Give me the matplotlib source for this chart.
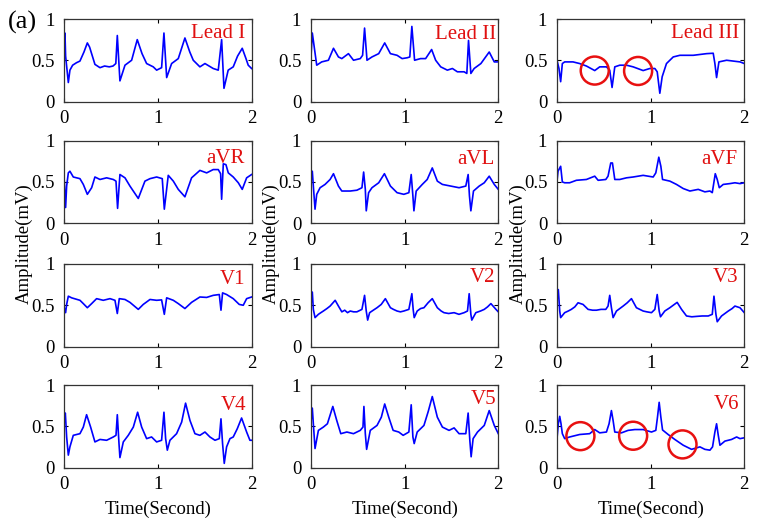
import matplotlib
matplotlib.use("Agg")
import matplotlib.pyplot as plt
from matplotlib.patches import Ellipse

plt.rcParams['font.family'] = ['Liberation Serif', 'DejaVu Serif']

# ---------------- data (time in s, amplitude in mV) ----------------
t_lead1 = [0.0, 0.007, 0.014, 0.043, 0.06, 0.089, 0.13, 0.167, 0.21, 0.246, 0.27, 0.327, 0.381, 0.43, 0.48, 0.52, 0.55,
           0.566, 0.594, 0.648, 0.719, 0.779, 0.83, 0.879, 0.95, 0.986, 1.039, 1.064, 1.093, 1.146, 1.217, 1.288, 1.34,
           1.377, 1.448, 1.502, 1.59, 1.644, 1.68, 1.705, 1.75, 1.804, 1.85, 1.9, 1.94, 1.964, 2.0]
v_lead1 = [0.62, 0.83, 0.55, 0.23, 0.38, 0.44, 0.47, 0.49, 0.60, 0.71, 0.66, 0.45, 0.41, 0.43, 0.42, 0.43, 0.46,
           0.80, 0.25, 0.44, 0.50, 0.75, 0.58, 0.46, 0.42, 0.38, 0.41, 0.83, 0.29, 0.46, 0.52, 0.77, 0.60,
           0.50, 0.42, 0.46, 0.40, 0.38, 0.75, 0.16, 0.38, 0.42, 0.55, 0.645, 0.52, 0.44, 0.40]

t_lead2 = [0.0, 0.014, 0.061, 0.114, 0.186, 0.24, 0.293, 0.329, 0.40, 0.454, 0.526, 0.551, 0.572, 0.598, 0.651, 0.723,
           0.787, 0.848, 0.919, 0.973, 1.027, 1.055, 1.077, 1.106, 1.17, 1.224, 1.288, 1.331, 1.385, 1.456, 1.51, 1.563,
           1.635, 1.664, 1.682, 1.707, 1.742, 1.814, 1.903, 1.957, 2.0]
v_lead2 = [0.54, 0.83, 0.44, 0.48, 0.50, 0.645, 0.54, 0.52, 0.58, 0.50, 0.52, 0.56, 0.89, 0.50, 0.54, 0.58,
           0.71, 0.58, 0.56, 0.52, 0.53, 0.54, 0.91, 0.50, 0.52, 0.52, 0.63, 0.50, 0.42, 0.38, 0.40, 0.36,
           0.36, 0.34, 0.74, 0.34, 0.40, 0.46, 0.60, 0.48, 0.48]

t_lead3 = [0.0, 0.021, 0.039, 0.057, 0.082, 0.171, 0.242, 0.314, 0.403, 0.456, 0.528, 0.563, 0.588, 0.617, 0.67,
           0.742, 0.813, 0.92, 0.991, 1.045, 1.07, 1.098, 1.123, 1.169, 1.241, 1.312, 1.455, 1.597, 1.668, 1.686,
           1.704, 1.729, 1.811, 1.882, 1.954, 2.0]
v_lead3 = [0.50, 0.40, 0.24, 0.46, 0.48, 0.48, 0.46, 0.43, 0.375, 0.42, 0.42, 0.38, 0.17, 0.42, 0.44,
           0.44, 0.42, 0.375, 0.40, 0.40, 0.36, 0.10, 0.30, 0.46, 0.54, 0.56, 0.56, 0.58, 0.585, 0.46,
           0.29, 0.48, 0.50, 0.49, 0.48, 0.46]

t_avr = [0.0, 0.014, 0.025, 0.043, 0.06, 0.096, 0.167, 0.203, 0.246, 0.292, 0.327, 0.381, 0.452, 0.523, 0.552, 0.569,
         0.594, 0.648, 0.701, 0.79, 0.861, 0.915, 0.986, 1.046, 1.068, 1.11, 1.164, 1.217, 1.288, 1.359, 1.448, 1.52,
         1.59, 1.644, 1.669, 1.68, 1.698, 1.726, 1.751, 1.804, 1.858, 1.9, 1.947, 2.0]
v_avr = [0.51, 0.19, 0.45, 0.61, 0.63, 0.56, 0.54, 0.47, 0.35, 0.43, 0.56, 0.53, 0.55, 0.53, 0.51, 0.18,
         0.59, 0.55, 0.45, 0.30, 0.51, 0.54, 0.56, 0.54, 0.17, 0.58, 0.51, 0.41, 0.32, 0.55, 0.64, 0.61,
         0.65, 0.65, 0.60, 0.29, 0.72, 0.71, 0.61, 0.56, 0.49, 0.41, 0.55, 0.59]

t_avl = [0.0, 0.014, 0.025, 0.043, 0.061, 0.097, 0.15, 0.204, 0.24, 0.293, 0.329, 0.419, 0.49, 0.544, 0.562, 0.58,
         0.59, 0.615, 0.651, 0.723, 0.784, 0.848, 0.919, 0.991, 1.045, 1.07, 1.088, 1.099, 1.123, 1.188, 1.241, 1.295,
         1.349, 1.403, 1.492, 1.581, 1.653, 1.678, 1.692, 1.707, 1.735, 1.796, 1.85, 1.903, 1.957, 2.0]
v_avl = [0.51, 0.63, 0.45, 0.17, 0.35, 0.43, 0.47, 0.53, 0.60, 0.45, 0.39, 0.39, 0.40, 0.43, 0.62, 0.41,
         0.15, 0.37, 0.43, 0.49, 0.60, 0.45, 0.37, 0.35, 0.37, 0.59, 0.33, 0.15, 0.39, 0.47, 0.53, 0.67,
         0.51, 0.47, 0.45, 0.43, 0.45, 0.59, 0.33, 0.15, 0.39, 0.45, 0.49, 0.57, 0.47, 0.41]

t_avf = [0.0, 0.011, 0.039, 0.057, 0.082, 0.135, 0.207, 0.314, 0.403, 0.439, 0.521, 0.545, 0.574, 0.592, 0.617, 0.67,
         0.742, 0.813, 0.92, 1.027, 1.055, 1.087, 1.109, 1.127, 1.205, 1.276, 1.348, 1.419, 1.508, 1.579, 1.633,
         1.658, 1.69, 1.711, 1.733, 1.775, 1.846, 1.9, 1.954, 2.0]
v_avf = [0.51, 0.63, 0.69, 0.50, 0.49, 0.49, 0.52, 0.53, 0.57, 0.52, 0.53, 0.57, 0.73, 0.73, 0.53, 0.53,
         0.55, 0.56, 0.58, 0.56, 0.61, 0.80, 0.69, 0.53, 0.51, 0.47, 0.42, 0.39, 0.41, 0.38, 0.39,
         0.37, 0.60, 0.53, 0.43, 0.47, 0.48, 0.49, 0.48, 0.49]

t_v1 = [0.0, 0.014, 0.025, 0.043, 0.078, 0.167, 0.203, 0.246, 0.292, 0.345, 0.416, 0.488, 0.541, 0.566, 0.587, 0.648,
        0.701, 0.79, 0.843, 0.915, 0.986, 1.039, 1.068, 1.093, 1.164, 1.217, 1.288, 1.359, 1.448, 1.52, 1.59, 1.655,
        1.673, 1.69, 1.733, 1.804, 1.868, 1.911, 1.947, 2.0]
v_v1 = [0.47, 0.41, 0.51, 0.61, 0.59, 0.56, 0.52, 0.47, 0.52, 0.58, 0.56, 0.58, 0.56, 0.40, 0.58, 0.57,
        0.535, 0.45, 0.51, 0.57, 0.56, 0.565, 0.39, 0.59, 0.56, 0.52, 0.46, 0.535, 0.60, 0.595, 0.62, 0.63,
        0.44, 0.65, 0.63, 0.58, 0.51, 0.50, 0.58, 0.60]

t_v2 = [0.0, 0.014, 0.025, 0.043, 0.079, 0.105, 0.132, 0.17, 0.204, 0.235, 0.258, 0.293, 0.329, 0.36, 0.39, 0.419,
        0.455, 0.49, 0.544, 0.572, 0.59, 0.605, 0.626, 0.665, 0.705, 0.75, 0.794, 0.848, 0.88, 0.919, 0.955, 0.991,
        1.045, 1.077, 1.091, 1.102, 1.134, 1.17, 1.206, 1.25, 1.295, 1.349, 1.39, 1.42, 1.47, 1.528, 1.58, 1.635,
        1.671, 1.689, 1.707, 1.717, 1.76, 1.81, 1.85, 1.885, 1.921, 1.975, 2.0]
v_v2 = [0.51, 0.66, 0.45, 0.35, 0.39, 0.41, 0.43, 0.46, 0.49, 0.53, 0.56, 0.49, 0.42, 0.44, 0.41, 0.43,
        0.42, 0.42, 0.45, 0.62, 0.43, 0.32, 0.41, 0.44, 0.47, 0.51, 0.58, 0.47, 0.45, 0.43, 0.42, 0.43,
        0.45, 0.64, 0.45, 0.35, 0.43, 0.46, 0.47, 0.53, 0.58, 0.47, 0.43, 0.41, 0.40, 0.41, 0.39, 0.41,
        0.43, 0.64, 0.39, 0.32, 0.41, 0.43, 0.45, 0.48, 0.52, 0.45, 0.42]

t_v3 = [0.0, 0.014, 0.029, 0.039, 0.082, 0.12, 0.153, 0.19, 0.225, 0.278, 0.332, 0.38, 0.421, 0.47, 0.521, 0.545,
        0.563, 0.581, 0.599, 0.635, 0.706, 0.75, 0.795, 0.848, 0.92, 0.96, 1.009, 1.045, 1.07, 1.091, 1.105, 1.151,
        1.205, 1.283, 1.33, 1.383, 1.44, 1.49, 1.55, 1.615, 1.658, 1.676, 1.697, 1.711, 1.757, 1.829, 1.87, 1.9,
        1.954, 2.0]
v_v3 = [0.56, 0.69, 0.43, 0.35, 0.41, 0.43, 0.45, 0.48, 0.53, 0.51, 0.45, 0.44, 0.44, 0.45, 0.45, 0.49,
        0.62, 0.47, 0.35, 0.43, 0.49, 0.53, 0.58, 0.47, 0.43, 0.42, 0.41, 0.45, 0.63, 0.43, 0.36, 0.43,
        0.47, 0.535, 0.45, 0.37, 0.36, 0.365, 0.37, 0.37, 0.39, 0.61, 0.39, 0.30, 0.37, 0.43, 0.46, 0.49,
        0.47, 0.41]

t_v4 = [0.0, 0.011, 0.025, 0.043, 0.06, 0.096, 0.167, 0.203, 0.238, 0.281, 0.327, 0.381, 0.452, 0.523, 0.552, 0.566,
        0.584, 0.594, 0.63, 0.683, 0.737, 0.783, 0.826, 0.879, 0.932, 0.986, 1.039, 1.064, 1.082, 1.1, 1.128, 1.199,
        1.253, 1.295, 1.342, 1.395, 1.448, 1.502, 1.555, 1.609, 1.655, 1.673, 1.69, 1.708, 1.733, 1.769, 1.804,
        1.847, 1.893, 1.947, 1.982, 2.0]
v_v4 = [0.62, 0.66, 0.37, 0.15, 0.25, 0.39, 0.41, 0.49, 0.64, 0.49, 0.31, 0.34, 0.33, 0.37, 0.39, 0.64,
        0.29, 0.12, 0.31, 0.39, 0.49, 0.67, 0.49, 0.35, 0.37, 0.31, 0.33, 0.67, 0.35, 0.21, 0.33, 0.41,
        0.55, 0.78, 0.57, 0.41, 0.39, 0.43, 0.37, 0.33, 0.35, 0.59, 0.29, 0.05, 0.25, 0.35, 0.37,
        0.47, 0.60, 0.43, 0.33, 0.33]

t_v5 = [0.0, 0.014, 0.025, 0.043, 0.079, 0.132, 0.175, 0.233, 0.275, 0.318, 0.383, 0.454, 0.526, 0.555, 0.565, 0.58,
        0.594, 0.633, 0.705, 0.751, 0.787, 0.83, 0.877, 0.937, 0.984, 1.045, 1.07, 1.088, 1.102, 1.134, 1.206, 1.252,
        1.295, 1.349, 1.403, 1.474, 1.528, 1.581, 1.653, 1.678, 1.696, 1.71, 1.731, 1.778, 1.85, 1.903, 1.957, 2.0]
v_v5 = [0.55, 0.72, 0.53, 0.23, 0.45, 0.49, 0.53, 0.74, 0.57, 0.41, 0.43, 0.41, 0.45, 0.49, 0.74, 0.41,
        0.22, 0.45, 0.51, 0.61, 0.77, 0.61, 0.45, 0.43, 0.39, 0.43, 0.76, 0.37, 0.29, 0.43, 0.51, 0.68,
        0.86, 0.61, 0.49, 0.45, 0.48, 0.41, 0.41, 0.66, 0.33, 0.13, 0.35, 0.43, 0.51, 0.69, 0.51, 0.41]

t_v6 = [0.0, 0.014, 0.029, 0.043, 0.057, 0.082, 0.135, 0.242, 0.349, 0.403, 0.456, 0.528, 0.556, 0.581, 0.599, 0.617,
        0.688, 0.759, 0.831, 0.92, 1.009, 1.055, 1.073, 1.091, 1.109, 1.127, 1.187, 1.258, 1.348, 1.437, 1.526,
        1.579, 1.633, 1.661, 1.686, 1.704, 1.722, 1.74, 1.793, 1.864, 1.918, 1.954, 2.0]
v_v6 = [0.35, 0.53, 0.62, 0.53, 0.41, 0.35, 0.37, 0.40, 0.41, 0.46, 0.42, 0.43, 0.53, 0.69, 0.57, 0.43,
        0.42, 0.45, 0.46, 0.46, 0.43, 0.45, 0.61, 0.79, 0.61, 0.455, 0.40, 0.34, 0.27, 0.22, 0.25,
        0.22, 0.21, 0.25, 0.43, 0.53, 0.39, 0.27, 0.32, 0.34, 0.37, 0.35, 0.36]

lead_names = ['Lead I', 'Lead II', 'Lead III', 'aVR', 'aVL', 'aVF', 'V1', 'V2', 'V3', 'V4', 'V5', 'V6']
series_t = [t_lead1, t_lead2, t_lead3, t_avr, t_avl, t_avf, t_v1, t_v2, t_v3, t_v4, t_v5, t_v6]
series_v = [v_lead1, v_lead2, v_lead3, v_avr, v_avl, v_avf, v_v1, v_v2, v_v3, v_v4, v_v5, v_v6]

# red circle markers (panel index, time centre, amplitude centre)
circle_panel = [2, 2, 11, 11, 11]
circle_t = [0.403, 0.866, 0.25, 0.813, 1.34]
circle_v = [0.375, 0.37, 0.38, 0.385, 0.28]

x_ticks = [0, 1, 2]
x_ticklabels = ['0', '1', '2']
y_ticks = [0, 0.5, 1]
y_ticklabels = ['0', '0.5', '1']

# ---------------- layout ----------------
W, H = 759, 525
fig = plt.figure(figsize=(W / 100, H / 100), dpi=100)

col_left_px = [64.3, 311.0, 557.0]
row_top_px = [19.0, 140.7, 264.0, 385.0]
ax_w_px, ax_h_px = 187.3, 82.5

# label placement (px below axes top for cap top, px from right edge)
label_top = [6, 7.7, 6, 10, 11, 11, 7.7, 5.3, 6, 13, 6.7, 11.7]
label_right = [6.7, 2, 4.7, 6.7, 4.3, 6.7, 6, 2.7, 5.7, 5, 2, 4.7]

axes = []
for i in range(12):
    r, c = divmod(i, 3)
    left = col_left_px[c] / W
    bottom = 1 - (row_top_px[r] + ax_h_px) / H
    ax = fig.add_axes([left, bottom, ax_w_px / W, ax_h_px / H])
    ax.plot(series_t[i], series_v[i], color='#0000ff', lw=1.2)
    ax.set_xlim(0, 2)
    ax.set_ylim(0, 1)
    ax.set_xticks(x_ticks)
    ax.set_xticklabels(x_ticklabels)
    ax.set_yticks(y_ticks)
    ax.set_yticklabels(y_ticklabels)
    ax.tick_params(axis='both', direction='in', top=True, right=True, length=3, width=0.8,
                   labelsize=13.5, colors='black')
    ax.tick_params(axis='x', pad=6)
    ax.tick_params(axis='y', pad=7)
    for s in ax.spines.values():
        s.set_linewidth(0.9)
        s.set_color('#333333')
    ax.annotate(lead_names[i], xy=(1, 1), xycoords='axes fraction',
                xytext=(-label_right[i], -(label_top[i] + 12.5)), textcoords='offset pixels',
                ha='right', va='baseline', color='#e01010', fontsize=15)
    axes.append(ax)

for k in range(len(circle_panel)):
    ax = axes[circle_panel[k]]
    ax.add_patch(Ellipse((circle_t[k], circle_v[k]), width=28 / (ax_w_px / 2), height=28 / ax_h_px,
                         fill=False, edgecolor='#e81010', lw=1.8, zorder=5))

# y labels for each column
for c, xc in enumerate([24.5, 271, 518]):
    fig.text(xc / W, 1 - 244 / H, 'Amplitude(mV)', rotation=90, ha='center', va='center', fontsize=13.5)
# x labels under bottom row
for c in range(3):
    xc = col_left_px[c] + ax_w_px / 2
    fig.text(xc / W, 1 - 509 / H, 'Time(Second)', ha='center', va='center', fontsize=13.5)

fig.text(22 / W, 1 - 22 / H, '(a)', ha='center', va='center', fontsize=19)

fig.savefig('out.png', dpi=100)
